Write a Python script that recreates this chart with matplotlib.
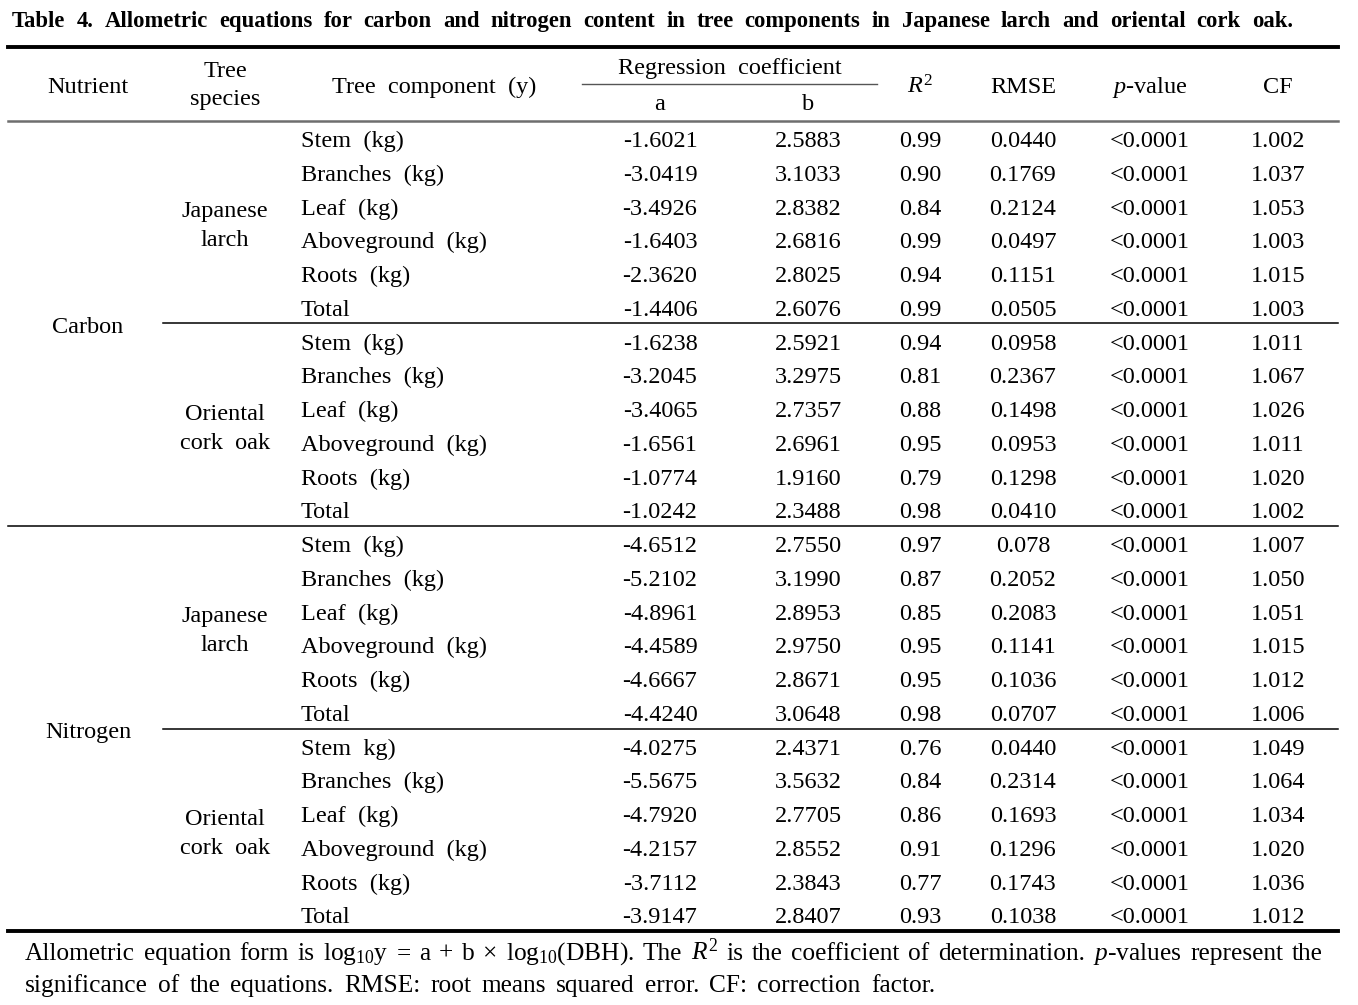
import matplotlib
matplotlib.use("Agg")
import matplotlib.pyplot as plt

plt.rcParams['font.family'] = ['Liberation Serif', 'DejaVu Serif']
plt.rcParams['mathtext.fontset'] = 'custom'
plt.rcParams['mathtext.rm'] = 'Liberation Serif'
plt.rcParams['mathtext.it'] = 'Liberation Serif:italic'
plt.rcParams['mathtext.bf'] = 'Liberation Serif:bold'

titulo = ("Table 4. Allometric equations for carbon and nitrogen content in tree "
          "components in Japanese larch and oriental cork oak.")
nota1 = ("Allometric equation form is log$_{10}$y = a + b × log$_{10}$(DBH). The $R^2$ "
         "is the coefficient of determination. $p$-values represent the")
nota2 = "significance of the equations. RMSE: root means squared error. CF: correction factor."

nutrientes = ["Carbon", "Nitrogen"]
especies = [["Japanese", "larch"], ["Oriental", "cork oak"]]

componentes = ["Stem (kg)", "Branches (kg)", "Leaf (kg)", "Aboveground (kg)", "Roots (kg)", "Total",
               "Stem (kg)", "Branches (kg)", "Leaf (kg)", "Aboveground (kg)", "Roots (kg)", "Total",
               "Stem (kg)", "Branches (kg)", "Leaf (kg)", "Aboveground (kg)", "Roots (kg)", "Total",
               "Stem kg)", "Branches (kg)", "Leaf (kg)", "Aboveground (kg)", "Roots (kg)", "Total"]
coef_a = ["-1.6021", "-3.0419", "-3.4926", "-1.6403", "-2.3620", "-1.4406",
          "-1.6238", "-3.2045", "-3.4065", "-1.6561", "-1.0774", "-1.0242",
          "-4.6512", "-5.2102", "-4.8961", "-4.4589", "-4.6667", "-4.4240",
          "-4.0275", "-5.5675", "-4.7920", "-4.2157", "-3.7112", "-3.9147"]
coef_b = ["2.5883", "3.1033", "2.8382", "2.6816", "2.8025", "2.6076",
          "2.5921", "3.2975", "2.7357", "2.6961", "1.9160", "2.3488",
          "2.7550", "3.1990", "2.8953", "2.9750", "2.8671", "3.0648",
          "2.4371", "3.5632", "2.7705", "2.8552", "2.3843", "2.8407"]
r2 = ["0.99", "0.90", "0.84", "0.99", "0.94", "0.99",
      "0.94", "0.81", "0.88", "0.95", "0.79", "0.98",
      "0.97", "0.87", "0.85", "0.95", "0.95", "0.98",
      "0.76", "0.84", "0.86", "0.91", "0.77", "0.93"]
rmse = ["0.0440", "0.1769", "0.2124", "0.0497", "0.1151", "0.0505",
        "0.0958", "0.2367", "0.1498", "0.0953", "0.1298", "0.0410",
        "0.078", "0.2052", "0.2083", "0.1141", "0.1036", "0.0707",
        "0.0440", "0.2314", "0.1693", "0.1296", "0.1743", "0.1038"]
pvalor = ["<0.0001"] * 24
cf = ["1.002", "1.037", "1.053", "1.003", "1.015", "1.003",
      "1.011", "1.067", "1.026", "1.011", "1.020", "1.002",
      "1.007", "1.050", "1.051", "1.015", "1.012", "1.006",
      "1.049", "1.064", "1.034", "1.020", "1.036", "1.012"]

W, H = 1358, 1005
fs = 17.5

fig = plt.figure(figsize=(W / 100, H / 100), dpi=100)
ax = fig.add_axes([0, 0, 1, 1])
ax.set_xlim(0, W)
ax.set_ylim(H, 0)
ax.axis("off")
renderer = fig.canvas.get_renderer()


# coloca las palabras repartidas entre x0 y x1 (texto justificado)
def justificar(texto, x0, x1, y, size, weight="normal", hueco=None):
    palabras = texto.split(" ")
    objs = [ax.text(0, y, p, fontsize=size, fontweight=weight, va="baseline", ha="left")
            for p in palabras]
    anchos = [o.get_window_extent(renderer).width for o in objs]
    if hueco is None:
        hueco = (x1 - x0 - sum(anchos)) / (len(palabras) - 1)
    x = x0
    for o, w in zip(objs, anchos):
        o.set_x(x)
        x += w + hueco
    return hueco


justificar(titulo, 12, 1293, 27, 16.3, weight="bold")

# lineas de la tabla
ax.plot([8, 1338], [47, 47], color="black", lw=2.8)
ax.plot([8, 1338], [121, 121], color="#6e6e6e", lw=1.8)
ax.plot([582, 877], [84, 84], color="#555555", lw=1.0)
ax.plot([163, 1338], [323, 323], color="black", lw=1.1)
ax.plot([8, 1338], [526, 526], color="black", lw=1.1)
ax.plot([163, 1338], [729, 729], color="black", lw=1.1)
ax.plot([8, 1338], [931, 931], color="black", lw=2.8)

# cabecera
ax.text(88, 93, "Nutrient", fontsize=fs, ha="center", va="baseline")
ax.text(225, 77, "Tree", fontsize=fs, ha="center", va="baseline")
ax.text(225, 105, "species", fontsize=fs, ha="center", va="baseline")
ax.text(434, 93, "Tree  component  (y)", fontsize=fs, ha="center", va="baseline")
ax.text(730, 74, "Regression  coefficient", fontsize=fs, ha="center", va="baseline")
ax.text(660, 110, "a", fontsize=fs, ha="center", va="baseline")
ax.text(808, 110, "b", fontsize=fs, ha="center", va="baseline")
ax.text(920, 93, "$R^2$", fontsize=fs, ha="center", va="baseline")
ax.text(1023, 93, "RMSE", fontsize=fs, ha="center", va="baseline")
ax.text(1150, 93, "$p$-value", fontsize=fs, ha="center", va="baseline")
ax.text(1278, 93, "CF", fontsize=fs, ha="center", va="baseline")

# columnas de datos
alto_fila = 33.75
for i in range(24):
    y = 147 + i * alto_fila
    ax.text(301, y, componentes[i].replace(" ", "  "), fontsize=fs, ha="left", va="baseline")
    ax.text(660, y, coef_a[i], fontsize=fs, ha="center", va="baseline")
    ax.text(808, y, coef_b[i], fontsize=fs, ha="center", va="baseline")
    ax.text(920, y, r2[i], fontsize=fs, ha="center", va="baseline")
    ax.text(1023, y, rmse[i], fontsize=fs, ha="center", va="baseline")
    ax.text(1150, y, pvalor[i], fontsize=fs, ha="center", va="baseline")
    ax.text(1278, y, cf[i], fontsize=fs, ha="center", va="baseline")

# nutriente y especie
for n, nombre in enumerate(nutrientes):
    y_centro = 147 + (n * 12 + 5.5) * alto_fila
    ax.text(88, y_centro, nombre, fontsize=fs, ha="center", va="baseline")
    for s, (l1, l2) in enumerate(especies):
        yc = 147 + (n * 12 + s * 6 + 2.5) * alto_fila
        ax.text(225, yc - 14, l1, fontsize=fs, ha="center", va="baseline")
        ax.text(225, yc + 15, l2.replace(" ", "  "), fontsize=fs, ha="center", va="baseline")

# nota al pie
hueco = justificar(nota1, 25, 1323, 960, 18.3)
justificar(nota2, 25, 935, 992, 18.3)

fig.savefig("out.png", dpi=100)
